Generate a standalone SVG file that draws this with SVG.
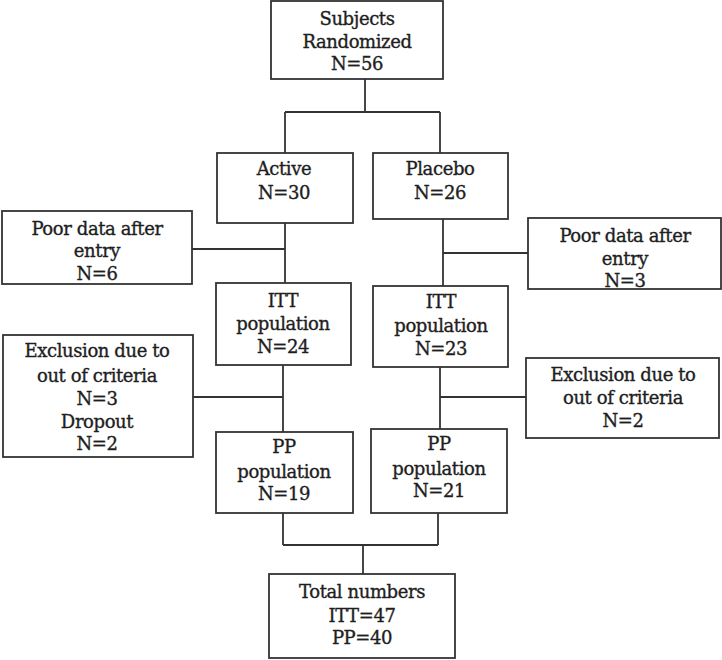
<svg xmlns="http://www.w3.org/2000/svg" width="722" height="660" viewBox="0 0 722 660">
<style>
rect{fill:#fff;stroke:#333;stroke-width:1.8}
#connectors line{stroke:#333;stroke-width:1.8}
text{font-family:"DejaVu Serif","Liberation Serif",serif;font-size:18px;letter-spacing:-0.4px;fill:#1e1e1e;stroke:#1e1e1e;stroke-width:0.35;text-anchor:middle}
</style>
<rect x="0" y="0" width="722" height="660" style="stroke:none"/>
<g id="connectors">
<line x1="365" y1="79" x2="365" y2="112"/>
<line x1="285" y1="112" x2="440" y2="112"/>
<line x1="285" y1="112" x2="285" y2="153"/>
<line x1="440" y1="112" x2="440" y2="153"/>
<line x1="285" y1="223" x2="285" y2="283"/>
<line x1="192" y1="249" x2="285" y2="249"/>
<line x1="443" y1="219" x2="443" y2="286"/>
<line x1="443" y1="253" x2="528" y2="253"/>
<line x1="283" y1="365" x2="283" y2="432"/>
<line x1="193" y1="397" x2="283" y2="397"/>
<line x1="440" y1="367" x2="440" y2="429"/>
<line x1="440" y1="397" x2="526" y2="397"/>
<line x1="283" y1="513" x2="283" y2="545"/>
<line x1="438" y1="513" x2="438" y2="545"/>
<line x1="283" y1="545" x2="438" y2="545"/>
<line x1="363" y1="545" x2="363" y2="574"/>
</g>
<g id="randomized"><rect x="271" y="1" width="172" height="78"/>
<text x="357" y="25">Subjects</text><text x="357" y="48">Randomized</text><text x="357" y="70">N=56</text></g>
<g id="active"><rect x="217" y="153" width="136" height="70"/>
<text x="284" y="175">Active</text><text x="284" y="199">N=30</text></g>
<g id="placebo"><rect x="373" y="153" width="135" height="66"/>
<text x="440" y="175">Placebo</text><text x="440" y="199">N=26</text></g>
<g id="poor-left"><rect x="2" y="211" width="190" height="73"/>
<text x="97" y="235">Poor data after</text><text x="97" y="257">entry</text><text x="97" y="280">N=6</text></g>
<g id="poor-right"><rect x="528" y="218" width="193" height="71"/>
<text x="625" y="242">Poor data after</text><text x="625" y="265">entry</text><text x="625" y="287">N=3</text></g>
<g id="itt-active"><rect x="216" y="283" width="135" height="82"/>
<text x="283" y="307">ITT</text><text x="283" y="330">population</text><text x="283" y="353">N=24</text></g>
<g id="itt-placebo"><rect x="373" y="286" width="135" height="81"/>
<text x="441" y="308">ITT</text><text x="441" y="332">population</text><text x="441" y="355">N=23</text></g>
<g id="excl-left"><rect x="3" y="335" width="190" height="122"/>
<text x="97" y="357">Exclusion due to</text><text x="97" y="382">out of criteria</text><text x="97" y="405">N=3</text><text x="97" y="428">Dropout</text><text x="97" y="450">N=2</text></g>
<g id="excl-right"><rect x="526" y="358" width="193" height="80"/>
<text x="623" y="381">Exclusion due to</text><text x="623" y="404">out of criteria</text><text x="623" y="427">N=2</text></g>
<g id="pp-active"><rect x="216" y="432" width="137" height="81"/>
<text x="284" y="453">PP</text><text x="284" y="478">population</text><text x="284" y="500">N=19</text></g>
<g id="pp-placebo"><rect x="371" y="429" width="136" height="84"/>
<text x="439" y="450">PP</text><text x="439" y="475">population</text><text x="439" y="497">N=21</text></g>
<g id="total"><rect x="269" y="574" width="186" height="84"/>
<text x="362" y="598">Total numbers</text><text x="362" y="622">ITT=47</text><text x="362" y="644">PP=40</text></g>
</svg>
